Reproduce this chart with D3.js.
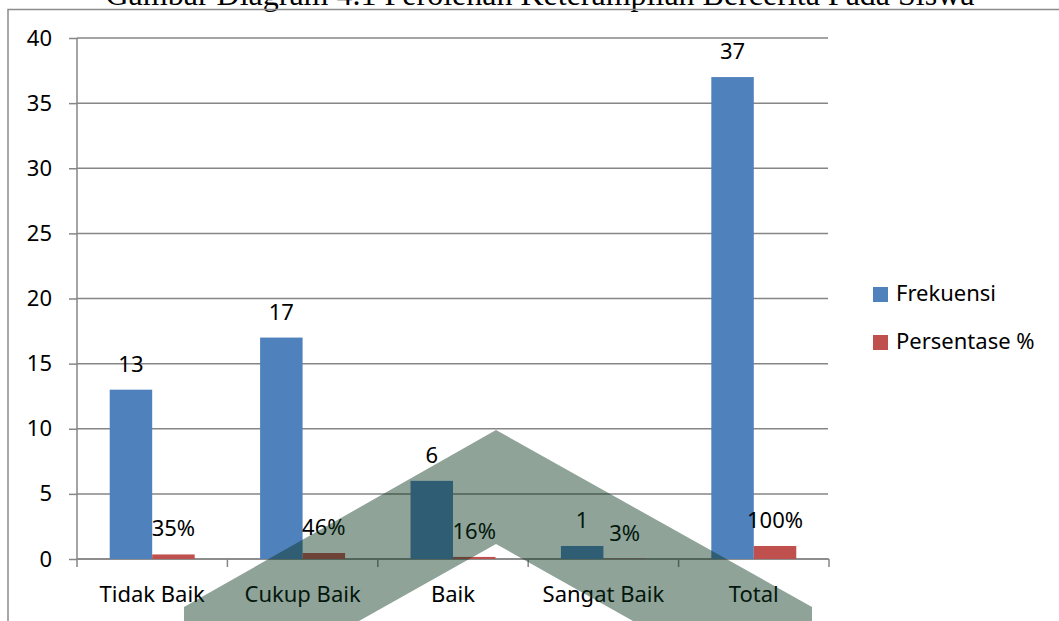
<!DOCTYPE html>
<html>
<head>
<meta charset="utf-8">
<script src="https://cdn.jsdelivr.net/npm/d3@7"></script>
<style>
  html, body { margin: 0; padding: 0; background: #fff; overflow: hidden; }
  svg { display: block; }
</style>
</head>
<body>
<div id="chart-container"></div>
<script>
const categories = ["Tidak Baik", "Cukup Baik", "Baik", "Sangat Baik", "Total"];
const frekuensi = [13, 17, 6, 1, 37];
const persentase = [0.35, 0.46, 0.16, 0.03, 1];
const persenLabels = ["35%", "46%", "16%", "3%", "100%"];
const seriesNames = ["Frekuensi", "Persentase %"];
const yTicks = [0, 5, 10, 15, 20, 25, 30, 35, 40];
const title = "Gambar Diagram 4.1 Perolehan Keterampilan Bercerita Pada Siswa";

const W = 1059, H = 621;
const colors = { "Frekuensi": "#4f81bd", "Persentase %": "#c0504d" };
const gridColor = "#868686";
const font = "'Noto Sans', sans-serif";

const svg = d3.select("#chart-container")
  .append("svg")
  .attr("width", W)
  .attr("height", H);

// caption of the page, its top half runs off the edge like in the scan
svg.append("text")
  .attr("x", 540)
  .attr("y", 5)
  .attr("text-anchor", "middle")
  .style("font-family", "'Liberation Serif', serif")
  .style("font-size", "32px")
  .attr("fill", "#000")
  .text(title);

svg.append("path")
  .attr("d", `M8,${H} V9.5 H${W}`)
  .attr("fill", "none")
  .attr("stroke", "#8c8c8c")
  .attr("stroke-width", 1.5);

const x = d3.scaleBand().domain(categories).range([77, 829]);
const y = d3.scaleLinear().domain([0, 40]).range([559, 38]);
const xs = d3.scaleBand().domain(seriesNames).range([0, x.bandwidth()]).paddingOuter(0.77);

const rows = categories.map((c, i) => ({
  cat: c,
  values: [
    { key: "Frekuensi", value: frekuensi[i], label: String(frekuensi[i]) },
    { key: "Persentase %", value: persentase[i], label: persenLabels[i] }
  ]
}));

// gridlines
svg.append("g")
  .selectAll("line")
  .data(yTicks)
  .join("line")
  .attr("x1", 77)
  .attr("x2", 828)
  .attr("y1", d => y(d))
  .attr("y2", d => y(d))
  .attr("stroke", gridColor)
  .attr("stroke-width", 1.5);

// y axis
svg.append("g")
  .attr("transform", "translate(77,0)")
  .call(d3.axisLeft(y).tickValues(yTicks).tickSize(8).tickPadding(17))
  .call(g => g.selectAll("line, path").attr("stroke", gridColor).attr("stroke-width", 1.5))
  .call(g => g.select(".domain").attr("d", `M0,${y(40)}V${y(0)}`))
  .call(g => g.selectAll("text")
    .attr("fill", "#000")
    .style("font-family", font)
    .style("font-size", "22px"));

// x axis
const xAxis = svg.append("g")
  .attr("transform", `translate(0,${y(0)})`)
  .call(d3.axisBottom(x).tickSize(0).tickPadding(27))
  .call(g => g.select(".domain").remove())
  .call(g => g.selectAll("text")
    .attr("fill", "#000")
    .style("font-family", font)
    .style("font-size", "22px"));

const bounds = categories.map(c => x(c)).concat([x.range()[1]]);
xAxis.selectAll(".bound")
  .data(bounds)
  .join("line")
  .attr("class", "bound")
  .attr("x1", d => d)
  .attr("x2", d => d)
  .attr("y1", 0)
  .attr("y2", 8)
  .attr("stroke", gridColor)
  .attr("stroke-width", 1.5);
xAxis.append("line")
  .attr("x1", x.range()[0])
  .attr("x2", x.range()[1])
  .attr("stroke", gridColor)
  .attr("stroke-width", 1.5);

// bars
const groups = svg.append("g")
  .selectAll("g")
  .data(rows)
  .join("g")
  .attr("transform", d => `translate(${x(d.cat)},0)`);

groups.selectAll("rect")
  .data(d => d.values)
  .join("rect")
  .attr("x", d => xs(d.key))
  .attr("width", xs.bandwidth())
  .attr("y", d => y(d.value))
  .attr("height", d => y(0) - y(d.value))
  .attr("fill", d => colors[d.key]);

groups.selectAll("text")
  .data(d => d.values)
  .join("text")
  .attr("x", d => xs(d.key) + xs.bandwidth() / 2)
  .attr("y", d => y(d.value) - 18)
  .attr("text-anchor", "middle")
  .style("font-family", font)
  .style("font-size", "22px")
  .attr("fill", "#000")
  .text(d => d.label);

// legend
const legend = svg.append("g")
  .selectAll("g")
  .data(seriesNames)
  .join("g")
  .attr("transform", (d, i) => `translate(873,${287 + i * 48})`);

legend.append("rect")
  .attr("width", 15)
  .attr("height", 15)
  .attr("fill", d => colors[d]);

legend.append("text")
  .attr("x", 23)
  .attr("y", 14)
  .style("font-family", font)
  .style("font-size", "22px")
  .attr("fill", "#000")
  .text(d => d);

// translucent chevron watermark laid over the page
svg.append("path")
  .attr("d", "M184,621 V607 L496,430 L812,607 V621 H633 L496,544 L359,621 Z")
  .attr("fill", "rgb(9,53,29)")
  .attr("fill-opacity", 0.455);
</script>
</body>
</html>
